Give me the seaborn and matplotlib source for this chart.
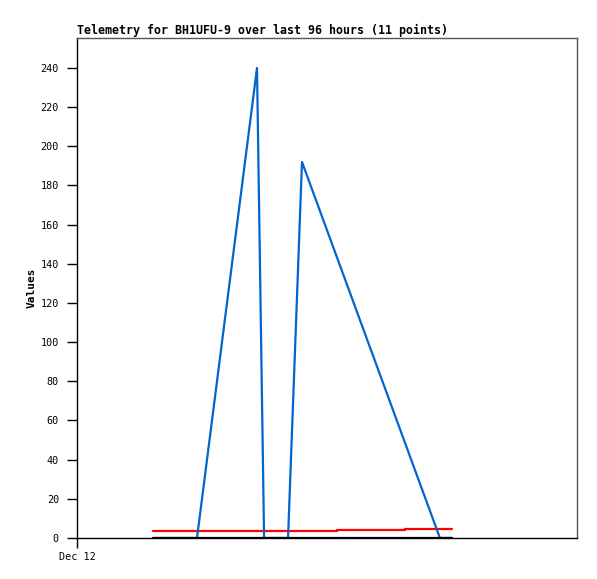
import matplotlib
matplotlib.use("Agg")
import matplotlib.pyplot as plt
import pandas as pd
import seaborn as sns

# hours after Dec 12 00:00
blue_hours = [3.65, 5.76, 8.64, 8.98, 10.13, 10.80, 17.42, 18.0]
blue_values = [0, 0, 240, 0, 0, 192, 0, 0]

red_hours = [3.65, 12.48, 15.74, 18.0]
red_values = [3.8, 4.2, 4.7, 4.7]

black_hours = [3.65, 18.0]
black_values = [0, 0]

y_ticks = list(range(0, 241, 20))
x_tick_labels = ["Dec 12"]

sns.set_style("white")
plt.rcParams["font.family"] = ["DejaVu Sans Mono"]
plt.rcParams["text.color"] = "black"
plt.rcParams["axes.labelcolor"] = "black"
plt.rcParams["xtick.color"] = "black"
plt.rcParams["ytick.color"] = "black"

fig = plt.figure(figsize=(5.97, 5.79), dpi=100)
ax = fig.add_axes([77 / 597, 1 - 538 / 579, 500 / 597, 500 / 579])

blue_df = pd.DataFrame({"hours": blue_hours, "value": blue_values})
red_df = pd.DataFrame({"hours": red_hours, "value": red_values})
black_df = pd.DataFrame({"hours": black_hours, "value": black_values})

sns.lineplot(data=red_df, x="hours", y="value", ax=ax, color="#ff0000",
             linewidth=1.6, estimator=None, drawstyle="steps-post")
sns.lineplot(data=blue_df, x="hours", y="value", ax=ax, color="#0066cc",
             linewidth=1.6, estimator=None)
sns.lineplot(data=black_df, x="hours", y="value", ax=ax, color="black",
             linewidth=1.6, estimator=None)

ax.set_xlim(0, 24)
ax.set_ylim(0, 255.3)
ax.set_yticks(y_ticks)
ax.set_yticklabels([str(v) for v in y_ticks], fontsize=7.3)
ax.set_xticks([0])
ax.set_xticklabels(x_tick_labels, fontsize=7.3)
ax.tick_params(axis="both", direction="out", length=7, width=1, color="black",
               left=True, bottom=True)
ax.tick_params(axis="y", pad=6)
ax.tick_params(axis="x", pad=3)

for side in ["left", "bottom"]:
    ax.spines[side].set_color("black")
    ax.spines[side].set_linewidth(1)
for side in ["top", "right"]:
    ax.spines[side].set_color("#555555")
    ax.spines[side].set_linewidth(1)

ax.set_xlabel("")
ax.set_ylabel("Values", fontsize=8, fontweight="bold", labelpad=3)
ax.set_title("Telemetry for BH1UFU-9 over last 96 hours (11 points)",
             fontsize=8.35, fontweight="bold", loc="left", pad=3)

fig.savefig("out.png", dpi=100)
